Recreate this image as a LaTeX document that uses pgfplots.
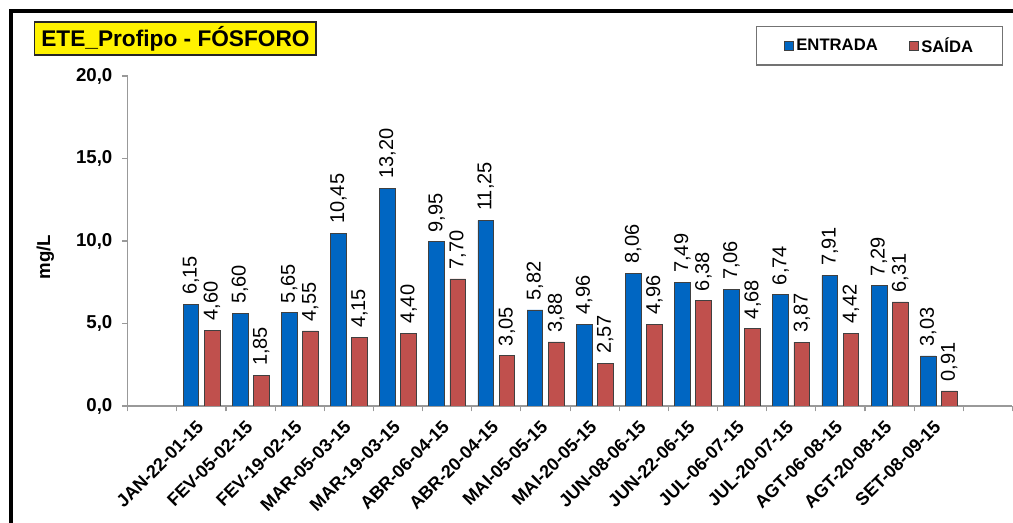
\documentclass[border=0pt]{standalone}
\usepackage{pgfplots}
\usepackage{pgfplotstable}
\pgfplotsset{compat=1.18}
\usepackage{fontspec}
\setmainfont{Liberation Sans}
\definecolor{entrada}{RGB}{0,102,194}
\definecolor{saida}{RGB}{192,80,77}
\pgfplotstableread{
x ent sai
0 6.15 4.60
1 5.60 1.85
2 5.65 4.55
3 10.45 4.15
4 13.20 4.40
5 9.95 7.70
6 11.25 3.05
7 5.82 3.88
8 4.96 2.57
9 8.06 4.96
10 7.49 6.38
11 7.06 4.68
12 6.74 3.87
13 7.91 4.42
14 7.29 6.31
15 3.03 0.91
}\data
\begin{document}
\begin{tikzpicture}
\useasboundingbox (0,0) rectangle (759.75pt,392.25pt);
\clip (0,0) rectangle (759.75pt,392.25pt);
\fill[white] (0,0) rectangle (759.75pt,392.25pt);
\draw[line width=3pt] (7.9pt,-10pt) -- (7.9pt,384pt) -- (800pt,384pt);
\begin{axis}[
  at={(95.8pt,87.75pt)}, anchor=south west,
  scale only axis, width=663.5pt, height=247.5pt,
  xmin=-1.5, xmax=16.5, ymin=0, ymax=20,
  axis x line*=bottom, axis y line*=left,
  axis line style={draw=black!40, line width=0.8pt},
  tick align=outside, major tick length=4pt, minor tick length=4pt,
  tick style={draw=black!40, line width=0.8pt},
  every major x tick/.append style={draw=none},
  ytick={0,5,10,15,20},
  xtick={0,...,15},
  minor xtick={-1.5,-0.5,...,16.5},
  xticklabels={JAN-22-01-15,FEV-05-02-15,FEV-19-02-15,MAR-05-03-15,MAR-19-03-15,ABR-06-04-15,ABR-20-04-15,MAI-05-05-15,MAI-20-05-15,JUN-08-06-15,JUN-22-06-15,JUL-06-07-15,JUL-20-07-15,AGT-06-08-15,AGT-20-08-15,SET-08-09-15},
  xticklabel style={rotate=45, anchor=north east, font=\bfseries\fontsize{13.5}{16}\selectfont, inner sep=1pt, xshift=-6.1pt, yshift=0pt},
  yticklabel style={font=\bfseries\fontsize{14}{16}\selectfont, xshift=-4pt, /pgf/number format/.cd, fixed, fixed zerofill, precision=1, use comma},
  /pgf/number format/assume math mode=true,
  ylabel={mg/L},
  ylabel style={at={(axis description cs:-0.093,0.4515)}, anchor=center, font=\bfseries\fontsize{14}{16}\selectfont},
  ybar, bar width=0.32,
  nodes near coords={\pgfmathprintnumber[fixed,fixed zerofill,precision=2,use comma]{\pgfplotspointmeta}},
  every node near coord/.append style={rotate=90, anchor=west, inner xsep=7pt, inner ysep=0pt, font=\fontsize{15}{17}\selectfont, text=black},
  legend columns=2,
  legend style={at={(0.850,1.091)}, anchor=center, draw=black!55, line width=0.8pt,
    font=\bfseries\fontsize{12.5}{15}\selectfont, inner xsep=20pt, inner ysep=6pt,
    /tikz/every even column/.append style={column sep=21pt}},
  legend image code/.code={\draw[#1, line width=0.4pt] (0pt,-3.6pt) rectangle (7.2pt,3.6pt);},
]
\addplot[fill=entrada, draw=black!75, line width=0.5pt, bar shift=-0.215] table[x=x, y=ent] {\data};
\addplot[fill=saida, draw=black!75, line width=0.5pt, bar shift=0.215] table[x=x, y=sai] {\data};
\legend{ENTRADA, SAÍDA}
\end{axis}
\node[fill=yellow, draw=black!85, line width=1.2pt, inner xsep=5pt, inner ysep=0pt, minimum height=24.75pt, font=\bfseries\fontsize{17}{20}\selectfont] at (131.6pt,363.4pt) {ETE\_Profipo - FÓSFORO};
\end{tikzpicture}
\end{document}
